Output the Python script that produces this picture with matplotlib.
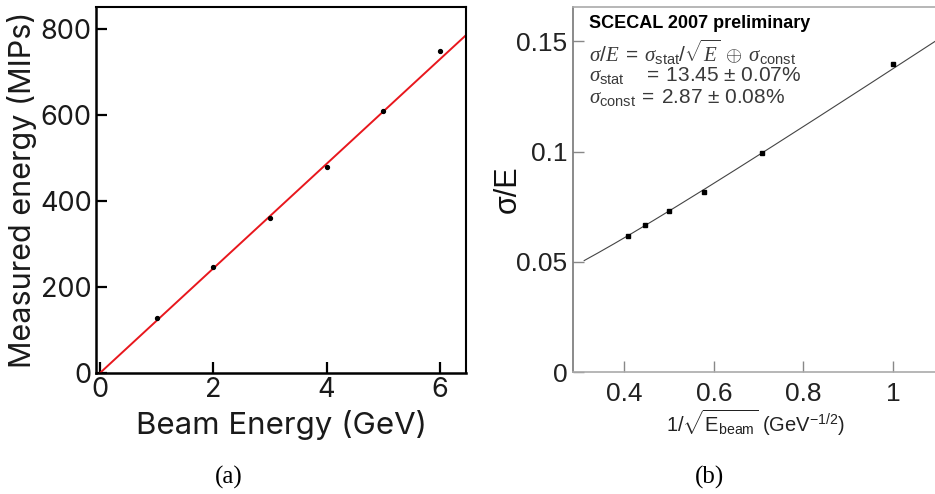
import numpy as np
import matplotlib
matplotlib.use("Agg")
import matplotlib.pyplot as plt

plt.rcParams["mathtext.fontset"] = "custom"
plt.rcParams["mathtext.rm"] = "Liberation Sans"
plt.rcParams["mathtext.it"] = "Liberation Serif:italic"
plt.rcParams["mathtext.sf"] = "Liberation Sans"

# (a) linearity
beam_energy = [1, 2, 3, 4, 5, 6]
measured_mips = [127, 247, 361, 478, 610, 749]
lin_slope = 121.6          # MIPs / GeV, fitted line
lin_range = (0.0, 6.46)

# (b) resolution
inv_sqrt_e = [0.408, 0.447, 0.500, 0.577, 0.707, 1.000]
sigma_over_e = [0.0619, 0.0666, 0.0733, 0.0819, 0.0993, 0.1396]
sigma_stat = 0.1345
sigma_const = 0.0287
fit_range = (0.31, 1.1)

LEFT = ["Inter", "DejaVu Sans"]
SANS = ["Liberation Sans", "DejaVu Sans"]
SERIF = ["Liberation Serif", "DejaVu Serif"]

fig = plt.figure(figsize=(9.35, 4.94), dpi=100)
W, H = 935, 494


def px_axes(x0, y0, x1, y1):
    return fig.add_axes([x0 / W, 1 - y1 / H, (x1 - x0) / W, (y1 - y0) / H])


# ---------------- panel (a)
ax1 = px_axes(96, 7, 466, 373)
ax1.plot(beam_energy, measured_mips, "o", color="black", ms=2.8, zorder=3)
xf = np.linspace(*lin_range, 50)
ax1.plot(xf, lin_slope * xf, color="#e8171d", lw=1.4)
ax1.set_xlim(-0.07, 6.46)
ax1.set_ylim(0, 851)
ax1.set_xticks([0, 2, 4, 6])
ax1.set_yticks([0, 200, 400, 600, 800])
for s in ["top", "right"]:
    ax1.spines[s].set_linewidth(1.5)
for s in ["left", "bottom"]:
    ax1.spines[s].set_linewidth(1.8)
ax1.tick_params(direction="in", length=8, width=1.6, labelsize=19.5, pad=3)
for lab in ax1.get_xticklabels() + ax1.get_yticklabels():
    lab.set_family(LEFT)
    lab.set_color("#1a1a1a")
ax1.set_xlabel("Beam Energy (GeV)", family=LEFT, fontsize=22.5, va="center", color="#1a1a1a")
ax1.set_ylabel("Measured energy (MIPs)", family=LEFT, fontsize=22, va="center", color="#1a1a1a")
ax1.xaxis.set_label_coords(0.5, -0.142)
ax1.yaxis.set_label_coords(-0.2, 0.5)

# ---------------- panel (b)
ax2 = px_axes(573, 7, 573 + 0.815 * 447.5, 372.3)
xs = np.linspace(*fit_range, 200)
ax2.plot(xs, np.hypot(sigma_stat * xs, sigma_const), color="#444444", lw=0.8)
ax2.plot(inv_sqrt_e, sigma_over_e, "s", color="black", ms=2.8, zorder=3)
ax2.set_xlim(0.285, 1.1)
ax2.set_ylim(0, 0.1655)
ax2.set_xticks([0.4, 0.6, 0.8, 1.0])
ax2.set_xticklabels(["0.4", "0.6", "0.8", "1"])
ax2.set_yticks([0, 0.05, 0.1, 0.15])
ax2.set_yticklabels(["0", "0.05", "0.1", "0.15"])
ax2.spines["left"].set_color("#777777")
ax2.spines["bottom"].set_color("#aaaaaa")
ax2.spines["top"].set_color("#aaaaaa")
ax2.spines["right"].set_color("#aaaaaa")
for s in ax2.spines.values():
    s.set_linewidth(1.2)
ax2.tick_params(direction="in", length=8, width=1.0, color="#888888",
                labelsize=19, labelcolor="#222222")
ax2.tick_params(axis="y", pad=4)
ax2.tick_params(axis="x", pad=7)
for lab in ax2.get_xticklabels() + ax2.get_yticklabels():
    lab.set_family(SANS)
ax2.set_ylabel("σ/E", family=SANS, fontsize=22, va="center", color="#111111")
ax2.yaxis.set_label_coords(-0.178, 0.5)
ax2.set_xlabel(r"$\mathrm{1/}\sqrt{\mathrm{E}_{\mathrm{beam}}}$ (GeV$^{\mathrm{-1/2}}$)",
               family=SANS, fontsize=14.5, va="center", color="#222222",
               math_fontfamily="custom")
ax2.xaxis.set_label_coords(0.5, -0.139)

tx = (589 - 573) / 364.7
ax2.text(tx, 1 - (24 - 7) / 365.3, "SCECAL 2007 preliminary", transform=ax2.transAxes,
         family=SANS, fontsize=13, fontweight="bold", va="center", color="black")
lines = [
    r"$\sigma/E\;=\;\sigma_{\mathrm{stat}}/\sqrt{E}\;\oplus\;\sigma_{\mathrm{const}}$",
    r"$\sigma_{\mathrm{stat}}\quad\ =\;\mathrm{13.45}\,\pm\,\mathrm{0.07\%}$",
    r"$\sigma_{\mathrm{const}}\;=\;\mathrm{2.87}\,\pm\,\mathrm{0.08\%}$",
]
for yy, s in zip([52, 75, 98], lines):
    ax2.text(tx, 1 - (yy - 7) / 365.3, s, transform=ax2.transAxes, fontsize=15,
             va="center", color="#3a3a3a", math_fontfamily="custom")

fig.text(229 / W, 1 - 477 / H, "(a)", family=SERIF, fontsize=18, ha="center", va="center")
fig.text(709 / W, 1 - 477 / H, "(b)", family=SERIF, fontsize=18, ha="center", va="center")

fig.savefig("out.png", dpi=100)
